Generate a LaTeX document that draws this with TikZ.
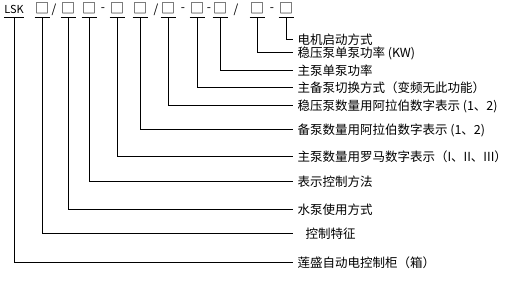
\documentclass[tikz,border=0pt]{standalone}
\usepackage{fontspec}
\newfontfamily\cjk{Noto Sans CJK SC}
\tikzset{LSKcode/.style={anchor=south,inner sep=0pt,minimum width=14pt,text height=11pt,text depth=4pt,font=\cjk\fontsize{14}{16}\selectfont},
         LSKsep/.style={inner sep=0pt,font=\cjk\fontsize{12}{14}\selectfont},
         LSKlab/.style={anchor=west,inner sep=0pt,inner xsep=4pt,font=\cjk\fontsize{12.5}{14}\selectfont}}

\begin{document}
\begin{tikzpicture}[x=1pt,y=-1pt,line width=1pt]
  \useasboundingbox (0,0) rectangle (512,283);
  % model code, one underlined field each
  \node[LSKcode,font=\cjk\fontsize{11}{14}\selectfont] (c0) at (14,18) {LSK};
  \draw (c0.south west)--(c0.south east);
  \foreach \x/\n in {42/c1,68/c2,89/c3,117/c4,140/c5,168/c6,197/c7,220/c8,257/c9,286/c10}
     {\node[LSKcode] (\n) at (\x,18) {□}; \draw (\n.south west)--(\n.south east);}
  \foreach \x/\n/\t in {54/s1/{/},103/s2/-,156/s3/{/},183/s4/-,209/s5/-,236/s6/{/},272/s7/-}
     {\node[LSKsep] (\n) at (\x,10) {\t};}
  % meaning of each field
  \foreach \n/\y/\l/\t in {c10/40/d10/电机启动方式,c9/53/d9/稳压泵单泵功率 (KW),c8/71/d8/主泵单泵功率,
      c7/88/d7/主备泵切换方式（变频无此功能）,c6/106/d6/稳压泵数量用阿拉伯数字表示 (1、2),
      c5/130/d5/备泵数量用阿拉伯数字表示 (1、2),c4/157/d4/主泵数量用罗马数字表示（I、II、III）,
      c3/182/d3/表示控制方法,c2/210/d2/水泵使用方式,c1/234/d1/{\hspace*{8pt}控制特征},
      c0/263/d0/莲盛自动电控制柜（箱）}
     {\node[LSKlab] (\l) at (293,\y) {\t}; \draw (\n.south) |- (\l.west);}
\end{tikzpicture}
\end{document}
